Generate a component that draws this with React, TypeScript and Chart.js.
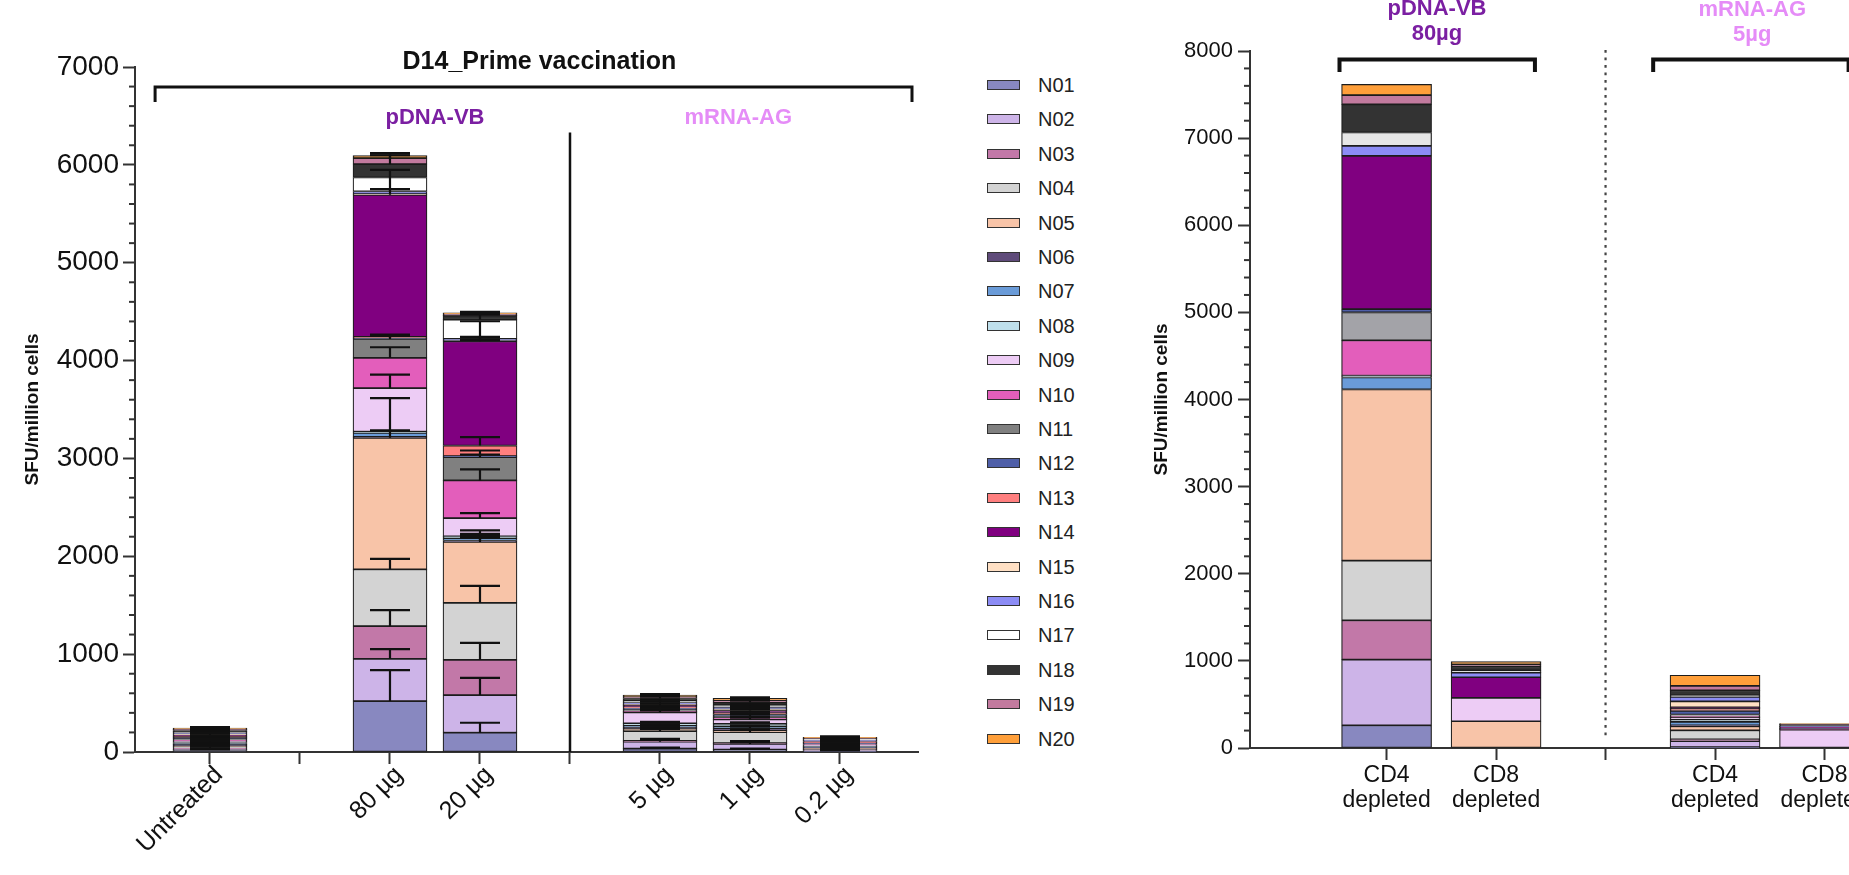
import React, { useEffect, useRef } from 'react';
import { Chart, registerables } from 'chart.js';

Chart.register(...registerables);

const FONT = "'Liberation Sans', Arial, Helvetica, sans-serif";

const SERIES = ['N01', 'N02', 'N03', 'N04', 'N05', 'N06', 'N07', 'N08', 'N09', 'N10', 'N11', 'N12', 'N13', 'N14', 'N15', 'N16', 'N17', 'N18', 'N19', 'N20'];
const COLORS = ['#8888C0', '#CDB4E8', '#C278A8', '#D3D3D3', '#F8C4A8', '#5F4B7A', '#6A9BD8', '#BFE0EC', '#EDCCF5', '#E35EBB', '#808080', '#4F5FA8', '#FF7F7F', '#800080', '#FFE0C4', '#8C8CF5', '#FFFFFF', '#333333', '#C27A9E', '#FF9F3A'];
const RIGHT_COLORS = ['#8888C0', '#CDB4E8', '#C278A8', '#D3D3D3', '#F8C4A8', '#5F4B7A', '#6A9BD8', '#BFE0EC', '#EDCCF5', '#E35EBB', '#A3A3A8', '#4F5FA8', '#FF7F7F', '#800080', '#FFE0C4', '#8C8CF5', '#E6E6E6', '#333333', '#C27A9E', '#FF9F3A'];

// Left panel: D14 prime vaccination
const LEFT_TICKS = ['Untreated', '', '80 µg', '20 µg', '', '5 µg', '1 µg', '0.2 µg'];
const UNTREATED = [15, 12, 14, 13, 10, 12, 11, 10, 14, 12, 13, 11, 12, 14, 10, 12, 13, 12, 11, 14];
const PDNA_80 = [520, 432, 334, 581, 1344, 10, 40, 12, 445, 309, 194, 10, 10, 1453, 8, 26, 143, 136, 61, 27];
const PDNA_20 = [197, 385, 360, 582, 622, 15, 25, 18, 187, 384, 238, 10, 109, 1065, 5, 20, 196, 41, 17, 11];
const MRNA_5 = [35, 70, 8, 100, 25, 15, 20, 20, 112, 10, 15, 20, 12, 15, 10, 15, 20, 25, 15, 20];
const MRNA_1 = [25, 58, 8, 112, 15, 25, 20, 25, 45, 15, 20, 15, 15, 25, 15, 20, 20, 30, 20, 20];
const MRNA_02 = [8, 7, 9, 8, 6, 7, 8, 7, 9, 8, 7, 8, 6, 9, 7, 8, 8, 7, 6, 7];

const UNTREATED_SD = [12, 10, 14, 8, 10, 12, 9, 11, 13, 10, 8, 12, 10, 14, 9, 11, 10, 12, 9, 10];
const PDNA_80_SD = [317, 99, 163, 106, 75, 0, 0, 343, 139, 109, 45, 20, 15, 58, 0, 221, 0, 112, 30, 20];
const PDNA_20_SD = [102, 176, 174, 173, 119, 30, 20, 25, 51, 113, 68, 15, 85, 45, 10, 180, 52, 20, 10, 10];
const MRNA_5_SD = [10, 30, 10, 22, 10, 12, 10, 15, 20, 15, 18, 15, 12, 16, 10, 14, 15, 18, 12, 10];
const MRNA_1_SD = [10, 28, 8, 20, 10, 15, 10, 15, 18, 14, 16, 12, 14, 18, 10, 12, 14, 18, 12, 10];
const MRNA_02_SD = [8, 6, 9, 7, 6, 8, 7, 6, 9, 8, 7, 8, 6, 9, 7, 8, 8, 7, 6, 10];

const LEFT_COLUMNS = [UNTREATED, null, PDNA_80, PDNA_20, null, MRNA_5, MRNA_1, MRNA_02];
const LEFT_SDS = [UNTREATED_SD, null, PDNA_80_SD, PDNA_20_SD, null, MRNA_5_SD, MRNA_1_SD, MRNA_02_SD];

// Right panel: depletion
const RIGHT_TICKS: (string | string[])[] = [['CD4', 'depleted'], ['CD8', 'depleted'], '', ['CD4', 'depleted'], ['CD8', 'depleted']];
const PDNA_CD4 = [261, 754, 451, 685, 1964, 0, 138, 15, 5, 406, 320, 37, 0, 1761, 0, 115, 153, 322, 107, 123];
const PDNA_CD8 = [0, 0, 0, 0, 307, 0, 0, 0, 267, 0, 0, 0, 0, 238, 0, 54, 26, 46, 23, 30];
const MRNA_CD4 = [10, 70, 20, 103, 46, 12, 38, 27, 23, 15, 20, 41, 27, 15, 68, 51, 19, 57, 50, 123];
const MRNA_CD8 = [0, 0, 0, 0, 0, 0, 0, 0, 211, 5, 5, 5, 5, 12, 0, 5, 5, 15, 7, 5];
const RIGHT_COLUMNS = [PDNA_CD4, PDNA_CD8, null, MRNA_CD4, MRNA_CD8];

const PURPLE = '#7B1FA2';
const PINK = '#E58CF7';

function minorTicks(ctx: CanvasRenderingContext2D, y: any, left: number, max: number) {
  ctx.save();
  ctx.strokeStyle = '#333';
  ctx.lineWidth = 2;
  for (let v = 200; v < max; v += 200) {
    if (v % 1000 === 0) continue;
    const py = y.getPixelForValue(v);
    ctx.beginPath();
    ctx.moveTo(left - 6, py);
    ctx.lineTo(left, py);
    ctx.stroke();
  }
  ctx.restore();
}

const leftDecor = {
  id: 'leftDecor',
  afterDatasetsDraw(chart: any) {
    const { ctx, scales: { x, y } } = chart;
    ctx.save();
    ctx.strokeStyle = '#111';
    ctx.lineWidth = 2.2;
    LEFT_COLUMNS.forEach((col, i) => {
      if (!col) return;
      const sd = LEFT_SDS[i] as number[];
      const px = x.getPixelForValue(i);
      let cum = 0;
      col.forEach((v, s) => {
        cum += v;
        if (!sd[s]) return;
        const y0 = y.getPixelForValue(cum);
        const y1 = y.getPixelForValue(cum + sd[s]);
        ctx.beginPath();
        ctx.moveTo(px, y0);
        ctx.lineTo(px, y1);
        ctx.moveTo(px - 20, y1);
        ctx.lineTo(px + 20, y1);
        ctx.stroke();
      });
    });
    ctx.restore();
  },
  afterDraw(chart: any) {
    const { ctx, chartArea: ca, scales: { x, y } } = chart;
    minorTicks(ctx, y, ca.left, 7000);
    ctx.save();
    ctx.strokeStyle = '#111';
    ctx.lineWidth = 2.5;
    const dx = x.getPixelForValue(4);
    ctx.beginPath();
    ctx.moveTo(dx, y.getPixelForValue(6330));
    ctx.lineTo(dx, ca.bottom);
    ctx.stroke();
    ctx.lineWidth = 3;
    const bx1 = x.getPixelForValue(-0.61);
    const bx2 = x.getPixelForValue(7.8);
    const by = ca.top + 20;
    ctx.beginPath();
    ctx.moveTo(bx1, ca.top + 35);
    ctx.lineTo(bx1, by);
    ctx.lineTo(bx2, by);
    ctx.lineTo(bx2, ca.top + 35);
    ctx.stroke();
    ctx.textAlign = 'center';
    ctx.textBaseline = 'alphabetic';
    ctx.fillStyle = '#111';
    ctx.font = `bold 25px ${FONT}`;
    ctx.fillText('D14_Prime vaccination', x.getPixelForValue(3.66), ca.top + 2);
    ctx.font = `bold 22px ${FONT}`;
    ctx.fillStyle = PURPLE;
    ctx.fillText('pDNA-VB', x.getPixelForValue(2.5), ca.top + 57);
    ctx.fillStyle = PINK;
    ctx.fillText('mRNA-AG', x.getPixelForValue(5.87), ca.top + 57);
    ctx.restore();
  },
};

const rightDecor = {
  id: 'rightDecor',
  afterDraw(chart: any) {
    const { ctx, chartArea: ca, scales: { x, y } } = chart;
    minorTicks(ctx, y, ca.left, 8000);
    ctx.save();
    ctx.strokeStyle = '#444';
    ctx.lineWidth = 2.2;
    ctx.setLineDash([2.7, 4.8]);
    const dx = x.getPixelForValue(2);
    ctx.beginPath();
    ctx.moveTo(dx, ca.top - 1);
    ctx.lineTo(dx, ca.bottom - 8);
    ctx.stroke();
    ctx.setLineDash([]);
    ctx.strokeStyle = '#111';
    ctx.lineWidth = 4;
    const by = ca.top + 8.5;
    const drawBracket = (a: number, b: number) => {
      const x1 = x.getPixelForValue(a);
      const x2 = x.getPixelForValue(b);
      ctx.beginPath();
      ctx.moveTo(x1, ca.top + 21);
      ctx.lineTo(x1, by);
      ctx.lineTo(x2, by);
      ctx.lineTo(x2, ca.top + 21);
      ctx.stroke();
    };
    drawBracket(-0.43, 1.355);
    drawBracket(2.435, 4.22);
    ctx.textAlign = 'center';
    ctx.textBaseline = 'alphabetic';
    ctx.font = `bold 22px ${FONT}`;
    ctx.fillStyle = PURPLE;
    const px = x.getPixelForValue(0.46);
    ctx.fillText('pDNA-VB', px, ca.top - 36);
    ctx.fillText('80µg', px, ca.top - 11);
    ctx.fillStyle = PINK;
    const mx = x.getPixelForValue(3.34);
    ctx.fillText('mRNA-AG', mx, ca.top - 35);
    ctx.fillText('5µg', mx, ca.top - 10);
    ctx.restore();
  },
};

const axisGrid = { drawOnChartArea: false, drawTicks: true, tickLength: 12, tickWidth: 2, tickColor: '#333', offset: false };
const axisBorder = { display: true, color: '#333', width: 2 };
const plainNumber = (v: any) => String(v);

export default function App() {
  const leftRef = useRef<HTMLCanvasElement>(null);
  const rightRef = useRef<HTMLCanvasElement>(null);

  useEffect(() => {
    const left = new Chart(leftRef.current as HTMLCanvasElement, {
      type: 'bar',
      data: {
        datasets: SERIES.map((name, s) => ({
          label: name,
          data: LEFT_COLUMNS.flatMap((col, i) => (col ? [{ x: i, y: col[s] }] : [])),
          backgroundColor: COLORS[s],
          borderColor: '#1c1c1c',
          borderWidth: 1.2,
          borderSkipped: false,
          barThickness: 74,
        })),
      } as any,
      options: {
        responsive: false,
        animation: false,
        layout: { padding: { top: 67, right: 42, left: 0, bottom: 0 } },
        plugins: { legend: { display: false }, tooltip: { enabled: false } },
        scales: {
          x: {
            type: 'linear',
            offset: false,
            min: -0.8333,
            max: 7.8667,
            stacked: true,
            afterBuildTicks: (sc: any) => { sc.ticks = LEFT_TICKS.map((_, i) => ({ value: i })); },
            afterFit: (sc: any) => { sc.height = 123; },
            ticks: {
              autoSkip: false,
              minRotation: 45,
              maxRotation: 45,
              padding: 7,
              labelOffset: 9,
              color: '#111',
              font: { family: FONT, size: 25, lineHeight: 0.01 },
              callback: (v: any) => LEFT_TICKS[Math.round(Number(v))] ?? '',
            },
            grid: axisGrid,
            border: axisBorder,
          },
          y: {
            type: 'linear',
            min: 0,
            max: 7000,
            stacked: true,
            afterFit: (sc: any) => { sc.width = 135; },
            ticks: { stepSize: 1000, padding: 4, color: '#111', font: { family: FONT, size: 28 }, callback: plainNumber },
            grid: axisGrid,
            border: axisBorder,
            title: { display: true, text: 'SFU/million cells', color: '#111', font: { family: FONT, size: 19, weight: 'bold' }, padding: { top: 21, bottom: 0 } },
          },
        },
      } as any,
      plugins: [leftDecor],
    });

    const right = new Chart(rightRef.current as HTMLCanvasElement, {
      type: 'bar',
      data: {
        datasets: SERIES.map((name, s) => ({
          label: name,
          data: RIGHT_COLUMNS.flatMap((col, i) => (col ? [{ x: i, y: col[s] }] : [])),
          backgroundColor: RIGHT_COLORS[s],
          borderColor: '#1c1c1c',
          borderWidth: 1.2,
          borderSkipped: false,
          barThickness: 90,
        })),
      } as any,
      options: {
        responsive: false,
        animation: false,
        layout: { padding: { top: 51, right: 16, left: 0, bottom: 0 } },
        plugins: { legend: { display: false }, tooltip: { enabled: false } },
        scales: {
          x: {
            type: 'linear',
            offset: false,
            min: -1.2475,
            max: 5,
            stacked: true,
            afterBuildTicks: (sc: any) => { sc.ticks = RIGHT_TICKS.map((_, i) => ({ value: i })); },
            afterFit: (sc: any) => { sc.height = 127; },
            ticks: {
              autoSkip: false,
              minRotation: 0,
              maxRotation: 0,
              padding: 3,
              color: '#111',
              font: { family: FONT, size: 23, lineHeight: 1.087 },
              callback: (v: any) => RIGHT_TICKS[Math.round(Number(v))] ?? '',
            },
            grid: axisGrid,
            border: axisBorder,
          },
          y: {
            type: 'linear',
            min: 0,
            max: 8000,
            stacked: true,
            afterFit: (sc: any) => { sc.width = 120; },
            ticks: { stepSize: 1000, padding: 5, color: '#111', font: { family: FONT, size: 22 }, callback: plainNumber },
            grid: axisGrid,
            border: axisBorder,
            title: { display: true, text: 'SFU/million cells', color: '#111', font: { family: FONT, size: 19, weight: 'bold' }, padding: { top: 20, bottom: 0 } },
          },
        },
      } as any,
      plugins: [rightDecor],
    });

    return () => {
      left.destroy();
      right.destroy();
    };
  }, []);

  return (
    <div style={{ position: 'fixed', left: 0, top: 0, width: 1849, height: 875, overflow: 'hidden', background: '#fff' }}>
      <canvas ref={leftRef} width={960} height={875} style={{ position: 'absolute', left: 0, top: 0 }} />
      <div style={{ position: 'absolute', left: 0, top: 0, fontFamily: FONT }}>
        {SERIES.map((name, s) => {
          const cy = 85 + 34.4 * s;
          return (
            <React.Fragment key={name}>
              <div style={{ position: 'absolute', left: 987, top: cy - 5, width: 33, height: 10, boxSizing: 'border-box', border: '1.5px solid #333', background: COLORS[s] }} />
              <div style={{ position: 'absolute', left: 1038, top: cy - 11, fontSize: 20, lineHeight: '22px', color: '#222', whiteSpace: 'nowrap' }}>{name}</div>
            </React.Fragment>
          );
        })}
      </div>
      <canvas ref={rightRef} width={820} height={875} style={{ position: 'absolute', left: 1130, top: 0 }} />
    </div>
  );
}
